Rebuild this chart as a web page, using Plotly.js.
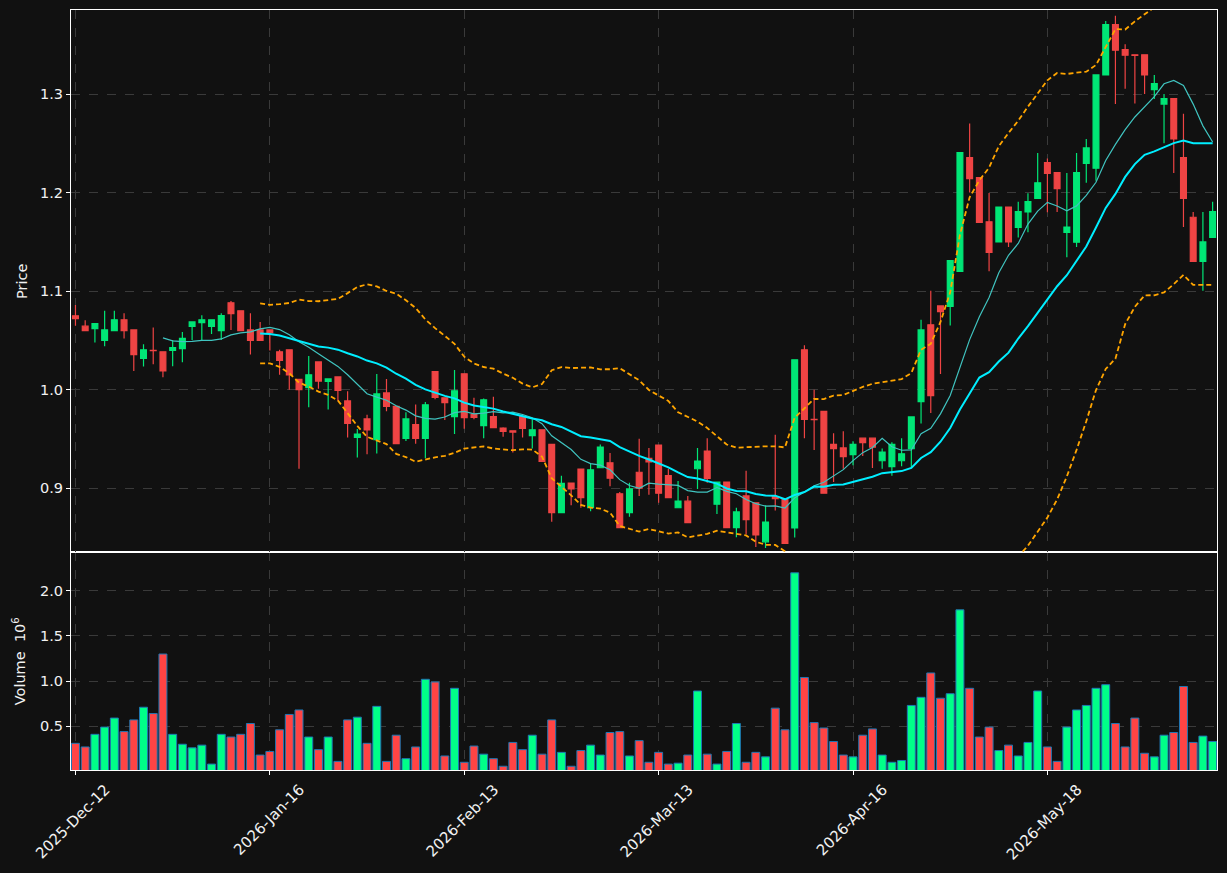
<!DOCTYPE html>
<html><head><meta charset="utf-8">
<script src="https://cdn.plot.ly/plotly-3.0.1.min.js"></script>
<style>html,body{margin:0;padding:0;background:#111111;}#chart{width:1227px;height:873px;}</style>
</head><body><div id="chart"></div>
<script>
// ---- data ----
const tickIndex = [0, 20, 40, 60, 80, 100];
const tickLabels = ["2025-Dec-12", "2026-Jan-16", "2026-Feb-13", "2026-Mar-13", "2026-Apr-16", "2026-May-18"];

const openP = [
 1.075,1.0645,1.062,1.050,1.060,1.071,1.0606,1.0317,1.040,1.0384,
 1.0398,1.0416,1.0642,1.068,1.0642,1.060,1.0882,1.080,1.0606,1.0606,
 1.0606,1.0384,1.0405,1.0105,1.002,1.0282,1.0084,1.013,0.9886,0.9515,
 0.9703,0.9494,0.9967,0.983,0.9505,0.9646,0.9505,1.0183,0.9918,0.9727,
 1.0162,0.9748,0.9636,0.9727,0.961,0.9583,0.9727,0.9533,0.9593,0.9445,
 0.8753,0.9053,0.9194,0.8802,0.9208,0.9258,0.8944,0.8753,0.9162,0.9304,
 0.9438,0.9127,0.8802,0.8869,0.9198,0.9378,0.8838,0.9063,0.8601,0.8922,
 0.8852,0.8456,0.8915,0.8887,0.8597,1.0405,0.9699,0.978,0.9445,0.9409,
 0.9342,0.9508,0.9508,0.9279,0.9219,0.9279,0.9402,0.9879,1.0659,1.085,
 1.0846,1.12,1.2354,1.2153,1.1704,1.15,1.1853,1.1648,1.1803,1.1941,
 1.2305,1.2202,1.1595,1.1496,1.2297,1.2248,1.3194,1.3706,1.3452,1.3399,
 1.3399,1.3046,1.2898,1.2954,1.2354,1.175,1.1302,1.1545];
const highP = [
 1.086,1.0705,1.067,1.080,1.080,1.0776,1.0606,1.046,1.063,1.0384,
 1.0504,1.0585,1.0688,1.0755,1.0709,1.0776,1.0899,1.080,1.0776,1.0688,
 1.0606,1.0405,1.0405,1.0105,1.0342,1.0282,1.0109,1.013,0.9985,0.960,
 0.9745,1.0158,1.0109,0.983,0.977,0.985,0.9875,1.0183,0.9918,1.020,
 1.0162,0.9918,0.991,0.9928,0.962,0.9583,0.9727,0.9699,0.9593,0.9445,
 0.9127,0.9053,0.9194,0.925,0.9445,0.9357,0.8962,0.9056,0.9501,0.9409,
 0.9438,0.9197,0.9074,0.8922,0.9409,0.9508,0.9063,0.9063,0.8802,0.9177,
 0.8852,0.8827,0.9544,0.8887,1.0303,1.0451,0.9999,0.978,0.9558,0.9579,
 0.9476,0.9508,0.9508,0.9402,0.9466,0.9508,0.9724,1.0709,1.1005,1.085,
 1.1309,1.2407,1.27,1.2153,1.1997,1.1853,1.1853,1.1906,1.1994,1.2403,
 1.2347,1.2202,1.2199,1.2403,1.2545,1.3194,1.3741,1.3794,1.3505,1.340,
 1.3399,1.3194,1.300,1.2954,1.2799,1.1803,1.1803,1.1906];
const lowP = [
 1.065,1.060,1.048,1.044,1.060,1.052,1.019,1.0236,1.0257,1.0126,
 1.0239,1.0278,1.0504,1.0504,1.0564,1.0504,1.0606,1.060,1.0356,1.050,
 1.0398,1.0151,1.000,0.9198,0.9823,1.001,0.9798,0.9886,0.9515,0.9311,
 0.9346,0.9353,0.978,0.9452,0.948,0.9452,0.9304,0.9904,0.9692,0.955,
 0.9604,0.970,0.9508,0.9614,0.9522,0.9363,0.9515,0.9402,0.9272,0.8661,
 0.8753,0.8827,0.8802,0.8767,0.9208,0.9021,0.8598,0.871,0.8922,0.8933,
 0.8852,0.8905,0.8802,0.865,0.8993,0.9056,0.8739,0.8601,0.8502,0.8534,
 0.8403,0.8393,0.8774,0.8439,0.8499,0.9508,0.9388,0.895,0.9063,0.9198,
 0.9233,0.9328,0.9205,0.9198,0.9127,0.9222,0.9215,0.9657,0.9763,1.0158,
 1.0652,1.12,1.2001,1.1697,1.1203,1.15,1.1447,1.1545,1.1598,1.1941,
 1.18,1.1803,1.1344,1.1447,1.21,1.2121,1.3194,1.2898,1.3053,1.2905,
 1.300,1.295,1.2502,1.2199,1.1651,1.1302,1.1005,1.1545];
const closeP = [
 1.072,1.060,1.067,1.0606,1.071,1.060,1.0356,1.0405,1.0395,1.019,
 1.0426,1.0522,1.0688,1.0709,1.0709,1.0751,1.0772,1.060,1.050,1.050,
 1.0578,1.0296,1.0151,1.000,1.0151,1.0087,1.0109,0.9992,0.9657,0.955,
 0.9593,0.9957,0.983,0.9452,0.9703,0.9505,0.9847,0.9921,0.9869,0.9988,
 0.9717,0.972,0.9897,0.9614,0.9576,0.957,0.9607,0.9593,0.9272,0.8753,
 0.9049,0.8993,0.8905,0.9187,0.9417,0.9102,0.8601,0.8993,0.900,0.9268,
 0.895,0.8905,0.8869,0.865,0.9275,0.9099,0.9063,0.8601,0.876,0.8682,
 0.8527,0.8657,0.8894,0.8439,1.0303,0.9699,0.9695,0.895,0.9402,0.9321,
 0.9445,0.9463,0.9417,0.9367,0.9445,0.935,0.9724,1.0606,0.9939,1.0793,
 1.1309,1.2407,1.2142,1.1697,1.1394,1.1853,1.15,1.1807,1.1909,1.21,
 1.2195,1.204,1.1651,1.2202,1.2453,1.3194,1.3706,1.3445,1.3395,1.3392,
 1.3194,1.3106,1.2954,1.2545,1.1941,1.1302,1.15,1.1807];
// volume in units of 10^6
const volume = [
 0.31,0.27,0.41,0.49,0.59,0.44,0.57,0.71,0.64,1.30,
 0.41,0.30,0.26,0.29,0.08,0.41,0.38,0.41,0.53,0.18,
 0.22,0.46,0.63,0.68,0.38,0.24,0.38,0.11,0.57,0.60,
 0.31,0.72,0.11,0.40,0.14,0.27,1.02,0.99,0.17,0.92,
 0.10,0.28,0.19,0.14,0.056,0.32,0.24,0.40,0.19,0.57,
 0.21,0.056,0.23,0.29,0.18,0.43,0.44,0.17,0.34,0.10,
 0.21,0.08,0.09,0.18,0.89,0.19,0.08,0.22,0.53,0.10,
 0.21,0.16,0.70,0.46,2.20,1.04,0.54,0.48,0.33,0.18,
 0.16,0.40,0.47,0.18,0.10,0.12,0.73,0.82,1.09,0.81,
 0.86,1.79,0.92,0.38,0.49,0.23,0.29,0.17,0.32,0.89,
 0.27,0.11,0.49,0.68,0.73,0.92,0.96,0.53,0.27,0.59,
 0.20,0.16,0.40,0.43,0.94,0.32,0.39,0.33];

// ---- indicators shown on the chart (derived from the closes) ----
function rollingMean(arr, n) {
  return arr.map((v, i) => {
    if (i < n - 1) return null;
    let s = 0; for (let k = i - n + 1; k <= i; k++) s += arr[k];
    return s / n;
  });
}
function rollingStd(arr, n) {
  const m = rollingMean(arr, n);
  return arr.map((v, i) => {
    if (i < n - 1) return null;
    let s = 0; for (let k = i - n + 1; k <= i; k++) s += (arr[k] - m[i]) ** 2;
    return Math.sqrt(s / n);
  });
}
const idx = closeP.map((_, i) => i);
const ma10 = rollingMean(closeP, 10);
const ma20 = rollingMean(closeP, 20);
const sd20 = rollingStd(closeP, 20);
const upper = ma20.map((m, i) => m === null ? null : m + 2 * sd20[i]);
const lower = ma20.map((m, i) => m === null ? null : m - 2 * sd20[i]);

const UP = '#00e676', DOWN = '#ef4444';
const volColors = closeP.map((c, i) => c >= openP[i] ? '#00ff88' : '#ff4444');

const traces = [
  { type: 'candlestick', x: idx, open: openP, high: highP, low: lowP, close: closeP,
    xaxis: 'x2', yaxis: 'y', whiskerwidth: 0,
    increasing: { line: { color: UP, width: 1.2 }, fillcolor: UP },
    decreasing: { line: { color: DOWN, width: 1.2 }, fillcolor: DOWN },
    hoverinfo: 'skip' },
  { type: 'scatter', mode: 'lines', x: idx, y: ma10, xaxis: 'x2', yaxis: 'y',
    line: { color: '#40c4c0', width: 1.2 }, hoverinfo: 'skip' },
  { type: 'scatter', mode: 'lines', x: idx, y: ma20, xaxis: 'x2', yaxis: 'y',
    line: { color: '#00eeff', width: 2 }, hoverinfo: 'skip' },
  { type: 'scatter', mode: 'lines', x: idx, y: upper, xaxis: 'x2', yaxis: 'y',
    line: { color: '#ffa500', width: 1.8, dash: '5px,3px' }, hoverinfo: 'skip' },
  { type: 'scatter', mode: 'lines', x: idx, y: lower, xaxis: 'x2', yaxis: 'y',
    line: { color: '#ffa500', width: 1.8, dash: '5px,3px' }, hoverinfo: 'skip' },
  { type: 'bar', x: idx, y: volume, xaxis: 'x', yaxis: 'y2', width: 0.82,
    marker: { color: volColors, line: { color: '#1f77b4', width: 1 } }, hoverinfo: 'skip' }
];

const GRID = '#3a3a3a';
const common = {
  showline: true, linecolor: '#ffffff', linewidth: 1, mirror: true,
  showgrid: true, gridcolor: GRID, griddash: 'dash', gridwidth: 1, zeroline: false
};
const xr = [-0.46, 117.45];
const split = 0.2862;
const layout = {
  width: 1227, height: 873,
  paper_bgcolor: '#111111', plot_bgcolor: '#111111',
  margin: { l: 71, r: 10, t: 10, b: 103 },
  showlegend: false,
  font: { family: 'DejaVu Sans, sans-serif', size: 14, color: '#f2f2f2' },
  boxgap: 0.4, boxgroupgap: 0,
  bargap: 0,
  xaxis: Object.assign({}, common, {
    domain: [0, 1], anchor: 'y2', range: xr, autorange: false,
    tickmode: 'array', tickvals: tickIndex, ticktext: tickLabels, tickangle: -45,
    tickfont: { size: 15 }, ticklabelshift: 30,
    ticks: 'outside', ticklen: 4, tickcolor: '#ffffff',
    rangeslider: { visible: false }
  }),
  xaxis2: Object.assign({}, common, {
    domain: [0, 1], anchor: 'y', matches: 'x', range: xr, autorange: false,
    tickmode: 'array', tickvals: tickIndex, showticklabels: false, ticks: '',
    rangeslider: { visible: false }
  }),
  yaxis: Object.assign({}, common, {
    domain: [split, 1], anchor: 'x2', range: [0.8348, 1.3853], autorange: false,
    tickmode: 'array', tickvals: [0.9, 1.0, 1.1, 1.2, 1.3], tickformat: '.1f',
    ticks: 'outside', ticklen: 4, tickcolor: '#ffffff', tickfont: { size: 14.5 },
    title: { text: 'Price', standoff: 8, font: { size: 14.5 } }
  }),
  yaxis2: Object.assign({}, common, {
    domain: [0, split], anchor: 'x', range: [0.0144, 2.4256], autorange: false,
    tickmode: 'array', tickvals: [0.5, 1.0, 1.5, 2.0], tickformat: '.1f',
    ticks: 'outside', ticklen: 4, tickcolor: '#ffffff', tickfont: { size: 14.5 },
    title: { text: 'Volume  10<sup>6</sup>', standoff: 10, font: { size: 14.5 } }
  })
};

Plotly.newPlot('chart', traces, layout, { staticPlot: true, displayModeBar: false });
</script>
</body></html>
